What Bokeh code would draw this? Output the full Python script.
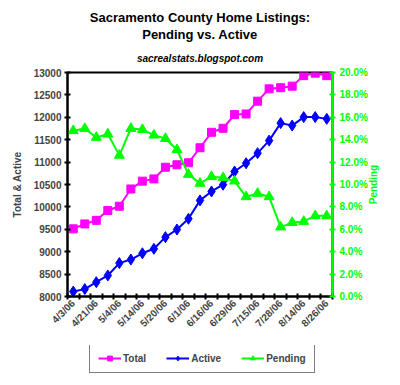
from bokeh.plotting import figure
from bokeh.layouts import column
from bokeh.models import (Range1d, LinearAxis, FixedTicker, PrintfTickFormatter,
                          Legend, LegendItem, Title, Label)
from bokeh.embed import file_html
from bokeh.resources import INLINE

dates = ["4/3/06", "4/13/06", "4/21/06", "4/27/06", "5/4/06", "5/9/06", "5/14/06",
         "5/17/06", "5/20/06", "5/25/06", "6/1/06", "6/8/06", "6/16/06", "6/22/06",
         "6/29/06", "7/7/06", "7/15/06", "7/21/06", "7/28/06", "8/5/06", "8/14/06",
         "8/20/06", "8/26/06"]
total = [9510, 9620, 9700, 9920, 10015, 10400, 10575, 10625, 10885, 10940, 10985,
         11320, 11665, 11755, 12060, 12075, 12360, 12635, 12660, 12695, 12930,
         12985, 12930]
active = [8110, 8165, 8320, 8470, 8745, 8825, 8965, 9065, 9325, 9495, 9735, 10145,
          10345, 10495, 10790, 10975, 11200, 11480, 11870, 11815, 12005, 12005, 11965]
pending = [14.8, 15.0, 14.2, 14.5, 12.6, 15.0, 14.9, 14.4, 14.1, 13.1, 10.9, 10.1,
           10.7, 10.6, 10.3, 8.9, 9.2, 8.9, 6.2, 6.6, 6.7, 7.2, 7.2]
left_ticks = [8000, 8500, 9000, 9500, 10000, 10500, 11000, 11500, 12000, 12500, 13000]
right_ticks = [0, 2, 4, 6, 8, 10, 12, 14, 16, 18, 20]
series_names = ["Total", "Active", "Pending"]

FONT = "Liberation Sans"
MAGENTA = "#FF00FF"
BLUE = "#0000FF"
GREEN = "#00FF00"

x = list(range(len(dates)))

p = figure(frame_width=265, frame_height=224, output_backend="svg", toolbar_location=None,
           x_range=Range1d(-0.5, len(dates) - 0.5),
           y_range=Range1d(left_ticks[0], left_ticks[-1]),
           min_border_left=67, min_border_right=68, min_border_top=72,
           min_border_bottom=49)
p.extra_y_ranges = {"pct": Range1d(right_ticks[0], right_ticks[-1])}
p.xgrid.visible = False
p.ygrid.visible = False
p.outline_line_color = "black"
p.outline_line_width = 2
p.background_fill_color = "white"
p.border_fill_color = "white"

for txt, size, style, so in [("sacrealstats.blogspot.com", "10px", "bold italic", 18),
                             ("Pending vs. Active", "13px", "bold", 0),
                             ("Sacramento County Home Listings:", "13px", "bold", 0)]:
    p.add_layout(Title(text=txt, align="center", text_font=FONT,
                       text_font_size=size, text_font_style=style,
                       text_color="black", standoff=so), "above")

# x axis
xa = p.below[0]
xa.ticker = FixedTicker(ticks=[i for i in x if i % 2 == 0],
                        minor_ticks=[i - 0.5 for i in range(len(dates) + 1)])
xa.major_label_overrides = {i: dates[i] for i in x if i % 2 == 0}
xa.major_label_orientation = 0.785
xa.major_tick_line_color = None
xa.major_tick_in = 0
xa.major_tick_out = 3
xa.minor_tick_in = 3
xa.minor_tick_out = 3
xa.minor_tick_line_width = 2
xa.axis_line_width = 2
xa.major_label_text_font = FONT
xa.major_label_text_font_style = "bold"
xa.major_label_text_font_size = "10px"
xa.major_label_standoff = 2

# left axis
ya = p.left[0]
ya.ticker = FixedTicker(ticks=left_ticks, minor_ticks=[])
ya.major_tick_in = 3
ya.major_tick_out = 3
ya.major_tick_line_width = 2
ya.axis_line_width = 2
ya.major_label_text_font = FONT
ya.major_label_text_font_style = "bold"
ya.major_label_text_font_size = "10px"
ya.major_label_standoff = 3
ya.axis_label = "Total & Active"
ya.axis_label_text_font = FONT
ya.axis_label_text_font_style = "bold"
ya.axis_label_text_font_size = "10px"
ya.axis_label_standoff = 8

# right axis (title drawn separately so it reads bottom-to-top)
ra = LinearAxis(y_range_name="pct", ticker=FixedTicker(ticks=right_ticks, minor_ticks=[]),
                formatter=PrintfTickFormatter(format="%.1f%%"))
ra.axis_line_color = GREEN
ra.axis_line_width = 2
ra.major_tick_line_color = GREEN
ra.major_tick_line_width = 2
ra.major_tick_in = 3
ra.major_tick_out = 3
ra.major_label_text_color = GREEN
ra.major_label_text_font = FONT
ra.major_label_text_font_style = "bold"
ra.major_label_text_font_size = "10px"
ra.major_label_standoff = 4
p.add_layout(ra, "right")

pend_label = Label(x=373, y=184, x_units="canvas", y_units="canvas",
                   text="Pending", angle=90, angle_units="deg",
                   text_align="center", text_baseline="middle",
                   text_color=GREEN, text_font=FONT, text_font_style="bold",
                   text_font_size="10px")
p.add_layout(pend_label, "right")

# series
styles = [(total, MAGENTA, "square", 8, "default"),
          (active, BLUE, "diamond", 11, "default"),
          (pending, GREEN, "triangle", 10, "pct")]
for vals, color, marker, msize, rng in styles:
    p.line(x, vals, line_color=color, line_width=2, y_range_name=rng)
    p.scatter(x, vals, marker=marker, size=msize, fill_color=color, line_color=color,
              y_range_name=rng)

# legend strip below the chart (its series lie outside its own visible range)
lf = figure(width=400, height=40, output_backend="svg", toolbar_location=None,
            x_axis_location=None, y_axis_location=None, min_border=0,
            outline_line_color=None, x_range=Range1d(-0.5, len(dates) - 0.5),
            y_range=Range1d(0, 1))
lf.xgrid.visible = False
lf.ygrid.visible = False
items = []
for name, (vals, color, marker, msize, rng) in zip(series_names, styles):
    lr = lf.line(x, vals, line_color=color, line_width=2)
    mr = lf.scatter(x, vals, marker=marker, size=msize, fill_color=color, line_color=color)
    items.append(LegendItem(label=name, renderers=[lr, mr]))
legend = Legend(items=items, orientation="horizontal", location=(22, 12),
                label_text_font=FONT, label_text_font_style="bold",
                label_text_font_size="10px", glyph_width=23, glyph_height=12,
                label_height=12, label_standoff=2, spacing=20, padding=8, margin=0,
                border_line_color="black", border_line_width=1,
                background_fill_alpha=1)
lf.add_layout(legend, "center")

layout = column(p, lf, spacing=0)
open("out.html", "w").write(file_html(layout, INLINE))
